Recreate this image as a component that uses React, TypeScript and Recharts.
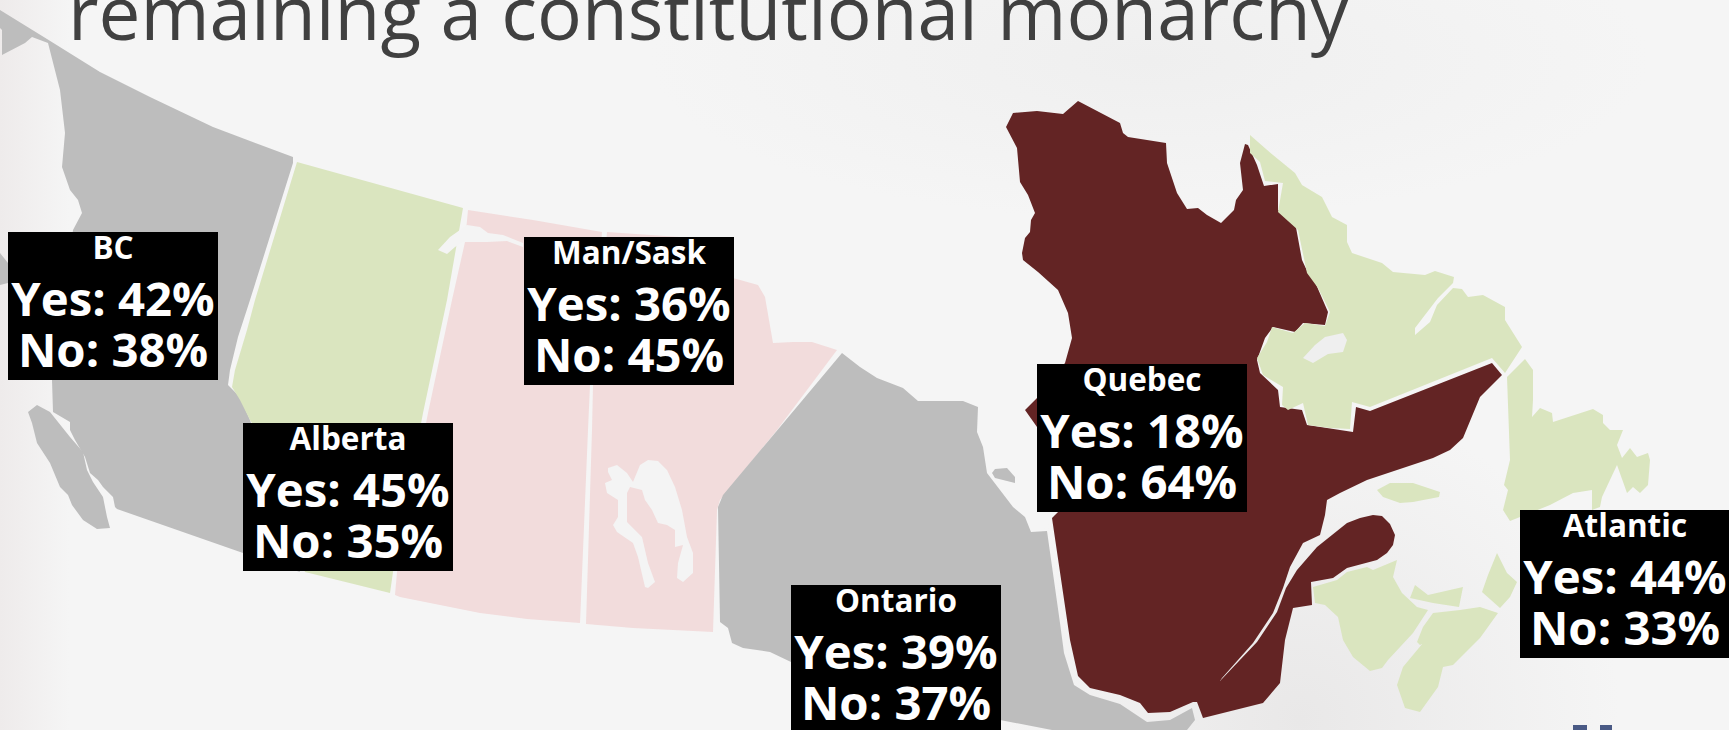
import { ScatterChart, Scatter, XAxis, YAxis } from 'recharts';

type Pt = [number, number];

const bcOutline: Pt[] = [[0,10],[47,39],[100,72],[150,97],[213,127],[293,157],[293,163],[250,300],[238,337],[230,370],[228,385],[240,397],[250,420],[300,572],[243,553],[117,509],[115,507],[113,497],[103,487],[98,480],[90,473],[85,457],[75,440],[70,430],[70,422],[53,412],[52,380],[73,230],[82,213],[78,200],[70,190],[62,167],[65,133],[60,90],[48,43],[32,37],[25,43],[2,55],[2,30],[0,28]];
const vancouverIsland: Pt[] = [[28,412],[37,405],[50,412],[70,437],[83,452],[87,470],[93,482],[103,497],[107,517],[110,528],[97,529],[83,520],[72,505],[68,495],[60,487],[50,463],[37,443],[32,423]];
const haidaGwaii: Pt[] = [[0,253],[8,263],[8,283],[0,285]];
const alberta: Pt[] = [[297,162],[463,208],[447,300],[423,413],[393,572],[390,593],[305,572],[252,423],[250,420],[240,400],[232,387],[235,370],[247,330],[255,300]];
const saskatchewan: Pt[] = [[468,210],[533,220],[602,232],[590,385],[588,430],[580,623],[527,619],[480,613],[400,597],[395,595],[397,572],[428,413],[452,300],[465,242]];
const manitoba: Pt[] = [[607,232],[680,237],[733,278],[758,285],[765,297],[773,343],[793,342],[812,342],[837,350],[777,430],[720,500],[717,510],[713,632],[633,628],[586,624],[592,430],[593,385]];
const athabasca: Pt[] = [[438,250],[450,237],[467,225],[480,227],[488,233],[503,235],[523,243],[523,247],[507,241],[487,242],[463,242],[455,247],[447,254]];
const winnipeg: Pt[] = [[608,468],[617,465],[627,473],[633,482],[640,465],[648,460],[658,461],[667,470],[675,487],[682,510],[687,537],[693,553],[693,573],[683,582],[677,578],[678,563],[683,545],[675,547],[675,530],[667,525],[658,523],[652,510],[645,500],[642,490],[630,487],[627,493],[627,522],[642,537],[648,563],[655,582],[648,588],[645,587],[638,557],[633,543],[617,532],[613,525],[618,517],[618,500],[607,493],[605,483],[612,480],[608,472]];
const ontario: Pt[] = [[842,353],[860,367],[877,378],[903,388],[918,401],[963,401],[978,407],[977,432],[983,447],[987,473],[1013,507],[1025,517],[1031,532],[1047,531],[1060,623],[1064,653],[1074,685],[1090,695],[1120,704],[1147,722],[1170,720],[1192,708],[1195,720],[1187,730],[1052,730],[1000,720],[791,700],[791,662],[770,652],[743,648],[732,643],[728,628],[720,622],[718,507],[723,495]];
const akimiski: Pt[] = [[992,473],[995,469],[1007,468],[1015,477],[1015,483],[1003,480],[995,478]];
const quebec: Pt[] = [[1006,127],[1013,113],[1037,111],[1063,114],[1078,101],[1120,123],[1123,133],[1128,137],[1166,143],[1167,163],[1177,193],[1187,209],[1198,208],[1207,215],[1221,223],[1234,210],[1236,200],[1243,190],[1240,163],[1245,144],[1248,145],[1257,165],[1264,186],[1278,184],[1278,210],[1295,222],[1302,260],[1308,273],[1315,282],[1328,312],[1325,325],[1303,323],[1295,332],[1273,327],[1265,338],[1257,360],[1260,373],[1278,390],[1280,407],[1302,410],[1307,425],[1327,428],[1353,432],[1356,407],[1370,411],[1492,363],[1502,375],[1480,397],[1463,438],[1450,450],[1433,458],[1400,469],[1367,480],[1340,493],[1327,500],[1325,515],[1320,535],[1303,543],[1290,567],[1283,588],[1273,613],[1253,643],[1222,678],[1220,681],[1257,642],[1277,612],[1286,588],[1297,570],[1317,547],[1347,523],[1360,518],[1373,515],[1382,516],[1390,524],[1395,535],[1393,545],[1387,553],[1377,560],[1347,568],[1333,578],[1311,582],[1312,605],[1293,608],[1285,640],[1280,683],[1263,703],[1203,718],[1197,702],[1193,702],[1170,712],[1148,713],[1140,703],[1120,695],[1090,688],[1078,676],[1070,640],[1052,518],[1055,515],[1060,510],[1045,430],[1037,427],[1025,410],[1037,398],[1065,363],[1072,338],[1068,313],[1058,290],[1038,272],[1023,260],[1022,253],[1025,238],[1030,232],[1031,220],[1035,213],[1028,195],[1020,182],[1017,148]];
const labrador: Pt[] = [[1250,135],[1273,155],[1295,173],[1302,185],[1322,197],[1332,217],[1347,225],[1347,242],[1352,253],[1382,263],[1393,272],[1425,275],[1435,271],[1454,277],[1453,283],[1438,298],[1415,328],[1415,335],[1430,322],[1437,305],[1453,288],[1462,289],[1468,297],[1483,295],[1505,307],[1505,320],[1522,347],[1505,373],[1492,358],[1370,407],[1352,402],[1350,429],[1330,428],[1308,425],[1303,403],[1288,410],[1282,405],[1283,387],[1263,375],[1257,358],[1267,342],[1272,327],[1293,333],[1305,323],[1325,326],[1330,312],[1318,288],[1307,273],[1298,230],[1278,212],[1283,183],[1265,181],[1260,162],[1250,153]];
const smallwood: Pt[] = [[1303,358],[1315,345],[1325,337],[1343,333],[1347,340],[1343,352],[1328,354],[1313,363]];
const newfoundland: Pt[] = [[1507,377],[1525,359],[1533,370],[1533,400],[1532,417],[1540,408],[1552,413],[1553,422],[1593,409],[1603,415],[1603,423],[1610,430],[1623,430],[1617,445],[1622,458],[1630,448],[1637,457],[1648,453],[1650,460],[1648,485],[1640,493],[1633,487],[1627,493],[1617,465],[1602,497],[1600,507],[1592,510],[1592,490],[1573,493],[1550,505],[1520,517],[1510,521],[1503,510],[1508,490],[1504,485],[1510,460]];
const anticosti: Pt[] = [[1377,490],[1390,483],[1413,483],[1440,492],[1439,497],[1413,502],[1400,503],[1383,497]];
const newBrunswick: Pt[] = [[1313,587],[1337,580],[1347,572],[1367,567],[1373,570],[1397,560],[1393,577],[1402,593],[1417,607],[1428,610],[1413,633],[1388,660],[1382,668],[1370,671],[1353,657],[1343,640],[1338,617],[1325,605],[1315,603]];
const pei: Pt[] = [[1415,585],[1428,595],[1463,587],[1459,607],[1433,603],[1410,598]];
const novaScotia: Pt[] = [[1433,613],[1460,610],[1480,607],[1498,613],[1480,638],[1453,665],[1443,667],[1438,687],[1420,712],[1405,708],[1397,685],[1403,667],[1423,643],[1437,637],[1420,645],[1417,642],[1423,627]];
const capeBreton: Pt[] = [[1497,553],[1502,563],[1507,573],[1517,582],[1510,597],[1500,608],[1482,592],[1488,575]];
const logoLeft: Pt[] = [[1573,725],[1587,725],[1587,730],[1573,730]];
const logoRight: Pt[] = [[1600,725],[1612,725],[1612,730],[1600,730]];

const regions = ['BC', 'Alberta', 'Man/Sask', 'Ontario', 'Quebec', 'Atlantic'];
const yesValues = [42, 45, 36, 39, 18, 44];
const noValues = [38, 35, 45, 37, 64, 33];
const labelX = [8, 243, 524, 791, 1037, 1520];
const labelY = [232, 423, 237, 585, 364, 510];

const titleText = 'remaining a constitutional monarchy';

const GRAY = '#bdbdbd';
const GREEN = '#dae5bf';
const PINK = '#f2dcdc';
const MAROON = '#632424';
const WATER = '#f4f4f4';

const shapes: { name: string; pts: Pt[]; fill: string }[] = [
  { name: 'bc', pts: bcOutline, fill: GRAY },
  { name: 'vancouver', pts: vancouverIsland, fill: GRAY },
  { name: 'haida', pts: haidaGwaii, fill: GRAY },
  { name: 'alberta', pts: alberta, fill: GREEN },
  { name: 'sask', pts: saskatchewan, fill: PINK },
  { name: 'manitoba', pts: manitoba, fill: PINK },
  { name: 'athabasca', pts: athabasca, fill: WATER },
  { name: 'winnipeg', pts: winnipeg, fill: WATER },
  { name: 'ontario', pts: ontario, fill: GRAY },
  { name: 'akimiski', pts: akimiski, fill: GRAY },
  { name: 'quebec', pts: quebec, fill: MAROON },
  { name: 'labrador', pts: labrador, fill: GREEN },
  { name: 'smallwood', pts: smallwood, fill: '#efefef' },
  { name: 'newfoundland', pts: newfoundland, fill: GREEN },
  { name: 'anticosti', pts: anticosti, fill: GREEN },
  { name: 'newBrunswick', pts: newBrunswick, fill: GREEN },
  { name: 'pei', pts: pei, fill: GREEN },
  { name: 'novaScotia', pts: novaScotia, fill: GREEN },
  { name: 'capeBreton', pts: capeBreton, fill: GREEN },
  { name: 'logoLeft', pts: logoLeft, fill: '#4a5a85' },
  { name: 'logoRight', pts: logoRight, fill: '#4a5a85' },
];

const labelData = regions.map((region, i) => ({
  x: labelX[i],
  y: labelY[i],
  region,
  yes: yesValues[i],
  no: noValues[i],
}));

const FONT = '"Open Sans", sans-serif';

function LabelBox(props: any) {
  const { cx, cy, payload } = props;
  const mid = cx + 105;
  return (
    <g fontFamily={FONT} fill="#fff" fontWeight={700} textAnchor="middle">
      <rect x={cx} y={cy} width={210} height={148} fill="#000" />
      <text x={mid} y={cy + 27} fontSize={31.5}>{payload.region}</text>
      <text x={mid} y={cy + 84} fontSize={47.3}>{`Yes: ${payload.yes}%`}</text>
      <text x={mid} y={cy + 135} fontSize={47.3}>{`No: ${payload.no}%`}</text>
    </g>
  );
}

const noDot = () => <g />;

export default function App() {
  return (
    <div
      style={{
        position: 'absolute',
        left: 0,
        top: 0,
        width: 1729,
        height: 730,
        overflow: 'hidden',
        background: [
          'radial-gradient(circle 320px at 1300px 720px, #e9e8e8 0%, rgba(233,232,232,0) 100%)',
          'radial-gradient(ellipse 500px 160px at 1150px 60px, #efefef 0%, rgba(239,239,239,0) 100%)',
          'linear-gradient(90deg, #eeebeb 0%, rgba(238,235,235,0) 4%)',
          '#f5f5f5',
        ].join(', '),
      }}
    >
      <ScatterChart width={1729} height={730} margin={{ top: 0, right: 0, bottom: 0, left: 0 }}>
        <XAxis type="number" dataKey="x" domain={[0, 1729]} hide />
        <YAxis type="number" dataKey="y" domain={[0, 730]} reversed hide />
        <text x={68} y={40} fontFamily={FONT} fontSize={74.7} fill="#404040">{titleText}</text>
        {shapes.map((s) => (
          <Scatter
            key={s.name}
            name={s.name}
            data={s.pts.map(([x, y]) => ({ x, y }))}
            line={{ stroke: 'none', fill: s.fill }}
            shape={noDot}
            isAnimationActive={false}
          />
        ))}
        <Scatter data={labelData} shape={LabelBox} isAnimationActive={false} />
      </ScatterChart>
    </div>
  );
}
